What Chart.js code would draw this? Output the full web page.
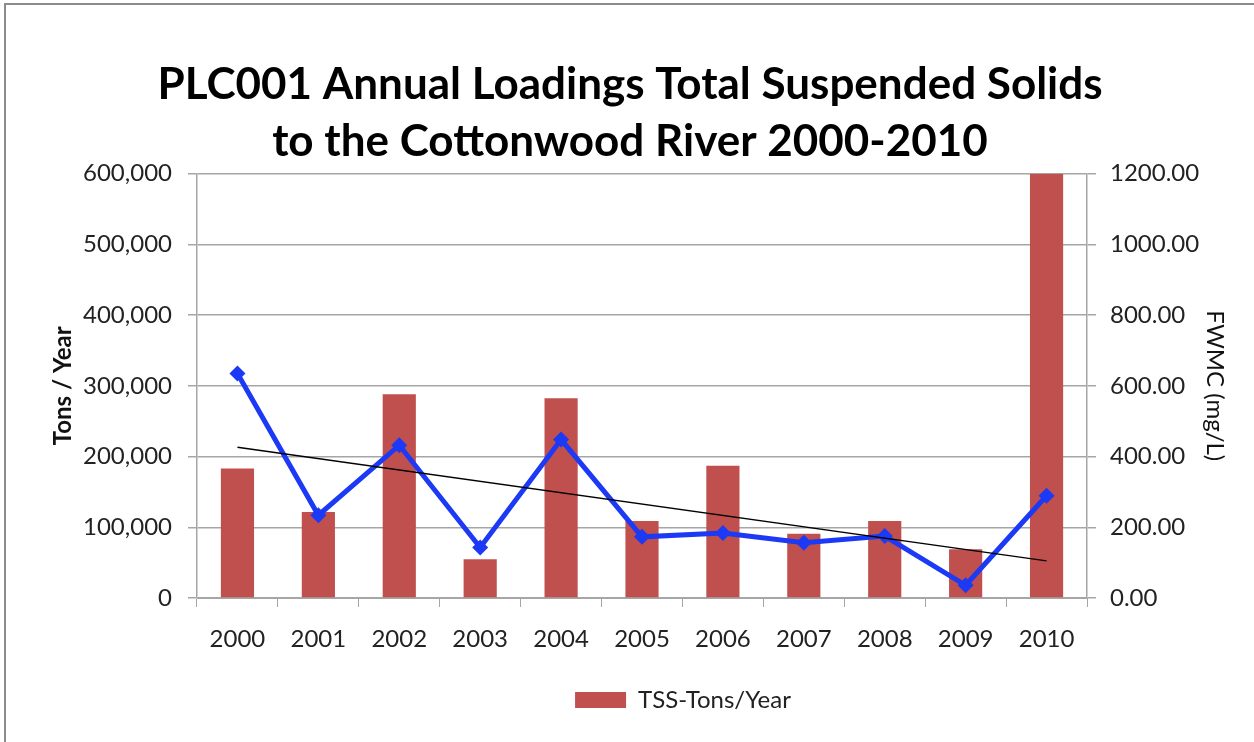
<!DOCTYPE html>
<html>
<head>
<meta charset="utf-8">
<script src="https://cdn.jsdelivr.net/npm/chart.js@4.4.0/dist/chart.umd.min.js"></script>
<style>
  html, body { margin: 0; padding: 0; background: #fff; overflow: hidden; }
  #wrap { position: relative; width: 1254px; height: 742px; }
  #frame { position: absolute; left: 4px; top: 3px; width: 1300px; height: 800px;
           border-left: 2px solid #8c8c8c; border-top: 2px solid #8c8c8c; }
  canvas { position: absolute; left: 0; top: 0; }
</style>
</head>
<body>
<div id="wrap">
  <div id="frame"></div>
  <canvas id="tssChart" width="1254" height="742"></canvas>
</div>
<script>
// years on the category axis
const years = ['2000', '2001', '2002', '2003', '2004', '2005', '2006', '2007', '2008', '2009', '2010'];

// annual TSS load, tons / year (left axis)
const tssTons = [183000, 121500, 288000, 54700, 282500, 108700, 186900, 90800, 108700, 68800, 600000];

// flow weighted mean concentration, mg/L (right axis)
const fwmc = [635, 234, 432, 143, 448, 173, 184, 156, 175, 36, 289];

// linear trendline on FWMC, end values
const trendStart = 426;
const trendEnd = 105;
const trend = years.map((y, i) => i === 0 ? trendStart : (i === years.length - 1 ? trendEnd : null));

const titleLines = ['PLC001 Annual Loadings Total Suspended Solids', 'to the Cottonwood River 2000-2010'];

const FONT = 'Lato, "Open Sans", sans-serif';
const GRID = '#a6a6a6';

// Excel puts the legend a little right of centre
const legendShift = {
    id: 'legendShift',
    afterUpdate(chart) {
        const lg = chart.legend;
        if (lg) { lg.left += 53; lg.right += 53; }
    }
};

function renderChart() {
    const ctx = document.getElementById('tssChart').getContext('2d');
    new Chart(ctx, {
        type: 'bar',
        data: {
            labels: years,
            datasets: [{
                type: 'bar',
                label: 'TSS-Tons/Year',
                data: tssTons,
                yAxisID: 'y',
                backgroundColor: '#c0504d',
                borderWidth: 0,
                categoryPercentage: 0.41,
                barPercentage: 1,
                order: 3
            }, {
                type: 'line',
                label: 'FWMC',
                data: fwmc,
                yAxisID: 'y1',
                borderColor: '#1c3af5',
                backgroundColor: '#1c3af5',
                borderWidth: 5,
                pointStyle: 'rectRot',
                pointRadius: 8,
                pointBorderWidth: 0,
                tension: 0,
                order: 2
            }, {
                type: 'line',
                label: 'Trend',
                data: trend,
                yAxisID: 'y1',
                borderColor: '#000',
                borderWidth: 1.5,
                pointRadius: 0,
                spanGaps: true,
                order: 1
            }]
        },
        options: {
            responsive: false,
            animation: false,
            layout: { padding: { left: 6, top: 4, right: 0, bottom: 20 } },
            plugins: {
                title: {
                    display: true,
                    text: titleLines,
                    color: '#000',
                    font: { family: FONT, size: 44, weight: 'bold', lineHeight: 1.28 },
                    padding: { top: 53, bottom: 4 }
                },
                legend: {
                    position: 'bottom',
                    labels: {
                        filter: item => item.datasetIndex === 0,
                        boxWidth: 51,
                        boxHeight: 16,
                        padding: 10,
                        color: '#222',
                        font: { family: FONT, size: 24 }
                    }
                },
                tooltip: { enabled: false }
            },
            scales: {
                x: {
                    offset: true,
                    grid: { display: true, offset: true, drawOnChartArea: false, color: GRID, tickLength: 9 },
                    border: { color: GRID },
                    ticks: { color: '#222', padding: 18, font: { family: FONT, size: 24 } },
                    afterFit: s => { s.height = 80; }
                },
                y: {
                    position: 'left',
                    min: 0,
                    max: 600000,
                    ticks: {
                        stepSize: 100000,
                        color: '#222',
                        padding: 16,
                        font: { family: FONT, size: 24 },
                        callback: v => v.toLocaleString('en-US')
                    },
                    grid: { color: GRID, lineWidth: 1.5, tickLength: 9 },
                    border: { color: GRID, width: 1.5 },
                    title: {
                        display: true,
                        text: 'Tons / Year',
                        color: '#111',
                        font: { family: FONT, size: 24, weight: 'bold' },
                        padding: { top: 43, bottom: 0 }
                    },
                    afterFit: s => { s.width = 197 - 6; }
                },
                y1: {
                    position: 'right',
                    min: 0,
                    max: 1200,
                    ticks: {
                        stepSize: 200,
                        color: '#222',
                        padding: 14,
                        font: { family: FONT, size: 24 },
                        callback: v => v.toFixed(2)
                    },
                    grid: { drawOnChartArea: false, color: GRID, lineWidth: 1.5, tickLength: 9 },
                    border: { color: GRID, width: 1.5 },
                    title: {
                        display: true,
                        text: 'FWMC (mg/L)',
                        color: '#111',
                        font: { family: FONT, size: 24 },
                        padding: { top: 25, bottom: 0 }
                    },
                    afterFit: s => { s.width = 1254 - 1087; }
                }
            }
        },
        plugins: [legendShift]
    });
}

window.onload = renderChart;
</script>
</body>
</html>
